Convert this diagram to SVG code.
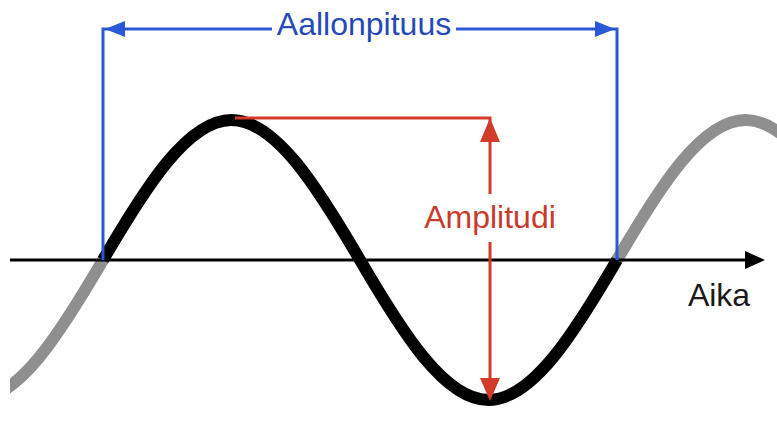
<svg xmlns="http://www.w3.org/2000/svg" width="777" height="421" viewBox="0 0 777 421">
<style>
.wave{fill:none;stroke-width:12;stroke-linecap:butt}
.blue{stroke:#2a59d6;stroke-width:3;fill:none}
.red{stroke:#d23a2a;stroke-width:3;fill:none}
.lbl{font-family:"Liberation Sans",Arial,Helvetica,sans-serif;font-size:32px}
</style>
<defs>
<clipPath id="clipL"><rect x="10" y="0" width="767" height="421"/></clipPath>
</defs>
<rect width="777" height="421" fill="#fff"/>
<g id="wave-gray">
<path class="wave" stroke="#8f8f8f" clip-path="url(#clipL)" d="M-25.5,400 C18.7,400 61.1,331.7 103,260"/>
<path class="wave" stroke="#8f8f8f" d="M617,260 C658.9,188.3 701.3,120 745.5,120 C789.7,120 832.1,188.3 874,260"/>
</g>
<g id="wave-black">
<path class="wave" stroke="#000" d="M103,260 C144.9,188.3 187.3,120 231.5,120 C275.7,120 318.1,188.3 360,260 C401.9,331.7 444.3,400 488.5,400 C532.7,400 575.1,331.7 617,260"/>
</g>
<g id="connectors">
<g id="axis">
<line x1="10" y1="260" x2="748" y2="260" stroke="#000" stroke-width="3"/>
<polygon points="765,260 745,251 745,269" fill="#000"/>
</g>
<g id="wavelength">
<polyline class="blue" points="103,260 103,29 272,29"/>
<polyline class="blue" points="456,29 617,29 617,260"/>
<polygon points="105,29 125,21 125,37" fill="#2a59d6"/>
<polygon points="615,29 595,21 595,37" fill="#2a59d6"/>
</g>
<g id="amplitude">
<polyline class="red" points="235,118 490,118 490,194"/>
<line class="red" x1="490" y1="242" x2="490" y2="382"/>
<polygon points="490,118 480,142 500,142" fill="#d23a2a"/>
<polygon points="490,401 480,378 500,378" fill="#d23a2a"/>
</g>
</g>
<g id="label-aallonpituus"><text class="lbl" x="364" y="35" text-anchor="middle" fill="#2549b8">Aallonpituus</text></g>
<g id="label-amplitudi"><text class="lbl" x="490" y="228" text-anchor="middle" fill="#c93a2c">Amplitudi</text></g>
<g id="label-aika"><text class="lbl" x="719" y="306" text-anchor="middle" fill="#1a1a1a">Aika</text></g>
</svg>
